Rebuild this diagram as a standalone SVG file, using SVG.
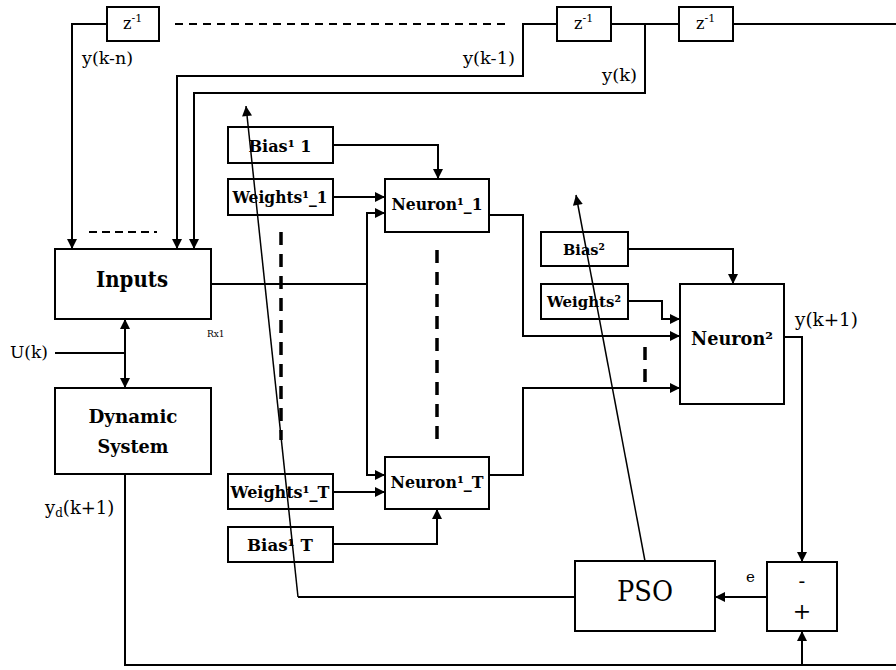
<svg xmlns="http://www.w3.org/2000/svg" width="896" height="670" viewBox="0 0 896 670">
<style>
.box{fill:#fff;stroke:#000;stroke-width:2}
.c{fill:none;stroke:#000;stroke-width:2}
.thin{fill:none;stroke:#000;stroke-width:1.5}
.a{marker-end:url(#ah)}
.b{font-family:'DejaVu Serif',serif;font-weight:bold;fill:#000;text-anchor:middle}
.r{font-family:'DejaVu Serif',serif;fill:#000}
.dash{fill:none;stroke:#000;stroke-width:3.5;stroke-dasharray:13,9}
</style>
<defs>
<marker id="ah" viewBox="0 0 10 10" refX="10" refY="5" markerWidth="11" markerHeight="10" markerUnits="userSpaceOnUse" orient="auto-start-reverse"><path d="M0,0 L10,5 L0,10 z" fill="#000"/></marker>
</defs>
<rect width="896" height="670" fill="#fff"/>

<g id="z1"><rect class="box" x="107" y="7" width="52" height="34"/><text class="r" x="123" y="29" font-size="16">z<tspan font-size="11" dy="-7">-1</tspan></text></g>
<g id="z2"><rect class="box" x="557" y="7" width="54" height="34"/><text class="r" x="574" y="29" font-size="16">z<tspan font-size="11" dy="-7">-1</tspan></text></g>
<g id="z3"><rect class="box" x="679" y="7" width="54" height="34"/><text class="r" x="696" y="29" font-size="16">z<tspan font-size="11" dy="-7">-1</tspan></text></g>

<g id="inputs"><rect class="box" x="55" y="249" width="156" height="70"/><text class="b" x="132" y="287" font-size="23" textLength="72" lengthAdjust="spacingAndGlyphs">Inputs</text></g>
<g id="dynamic"><rect class="box" x="55" y="388" width="156" height="86"/><text class="b" x="133" y="423" font-size="19" textLength="89" lengthAdjust="spacingAndGlyphs">Dynamic</text><text class="b" x="133" y="453" font-size="19" textLength="71" lengthAdjust="spacingAndGlyphs">System</text></g>

<g id="bias1_1"><rect class="box" x="228" y="127" width="105" height="36"/><text class="b" x="280" y="152" font-size="16" textLength="63" lengthAdjust="spacingAndGlyphs">Bias¹ 1</text></g>
<g id="weights1_1"><rect class="box" x="228" y="179" width="105" height="36"/><text class="b" x="280" y="203" font-size="16" textLength="95" lengthAdjust="spacingAndGlyphs">Weights¹_1</text></g>
<g id="weights1_T"><rect class="box" x="228" y="474" width="105" height="35"/><text class="b" x="280" y="498" font-size="16" textLength="99" lengthAdjust="spacingAndGlyphs">Weights¹_T</text></g>
<g id="bias1_T"><rect class="box" x="228" y="527" width="105" height="35"/><text class="b" x="280" y="551" font-size="16" textLength="66" lengthAdjust="spacingAndGlyphs">Bias¹ T</text></g>

<g id="neuron1_1"><rect class="box" x="385" y="179" width="104" height="53"/><text class="b" x="437" y="210" font-size="16" textLength="91" lengthAdjust="spacingAndGlyphs">Neuron¹_1</text></g>
<g id="neuron1_T"><rect class="box" x="385" y="457" width="104" height="52"/><text class="b" x="437" y="488" font-size="16" textLength="93" lengthAdjust="spacingAndGlyphs">Neuron¹_T</text></g>

<g id="bias2"><rect class="box" x="541" y="232" width="87" height="34"/><text class="b" x="584" y="255" font-size="15" textLength="42" lengthAdjust="spacingAndGlyphs">Bias²</text></g>
<g id="weights2"><rect class="box" x="541" y="284" width="87" height="35"/><text class="b" x="584" y="307" font-size="15" textLength="74" lengthAdjust="spacingAndGlyphs">Weights²</text></g>
<g id="neuron2"><rect class="box" x="680" y="284" width="104" height="120"/><text class="b" x="732" y="345" font-size="18" textLength="82" lengthAdjust="spacingAndGlyphs">Neuron²</text></g>

<g id="pso"><rect class="box" x="575" y="561" width="140" height="70"/><text class="r" x="645" y="601" font-size="28" text-anchor="middle" textLength="56" lengthAdjust="spacingAndGlyphs">PSO</text></g>
<g id="sum"><rect class="box" x="767" y="562" width="70" height="69"/><text class="r" x="802" y="588" font-size="20" text-anchor="middle">-</text><text class="r" x="802" y="619" font-size="22" text-anchor="middle">+</text></g>

<g id="labels">
<text class="r" x="82" y="64" font-size="16" textLength="51" lengthAdjust="spacingAndGlyphs">y(k-n)</text>
<text class="r" x="463" y="64" font-size="16" textLength="52" lengthAdjust="spacingAndGlyphs">y(k-1)</text>
<text class="r" x="602" y="81" font-size="16" textLength="35" lengthAdjust="spacingAndGlyphs">y(k)</text>
<text class="r" x="795" y="326" font-size="18" textLength="63" lengthAdjust="spacingAndGlyphs">y(k+1)</text>
<text class="r" x="10" y="358" font-size="16" textLength="38" lengthAdjust="spacingAndGlyphs">U(k)</text>
<text class="r" x="207" y="337" font-size="9">Rx1</text>
<text class="r" x="45" y="514" font-size="18">y<tspan font-size="12" dy="3">d</tspan><tspan dy="-3">(k+1)</tspan></text>
<text class="r" x="746" y="582" font-size="15">e</text>
</g>

<g id="connectors">
<path class="c a" d="M107,24 H72 V249"/>
<path class="c" d="M175,24 H507" stroke-dasharray="8,6"/>
<path class="c a" d="M557,24 H523 V76 H177 V249"/>
<path class="c" d="M611,24 H679"/>
<path class="c a" d="M645,24 V93 H194 V249"/>
<path class="c" d="M733,24 H896"/>
<path class="c" d="M89,232 H157" stroke-dasharray="8,5"/>
<path class="c" d="M211,284 H367"/>
<path class="c a" d="M385,213 H367 V475 H385" marker-start="url(#ah)"/>
<path class="c a" d="M333,197 H385"/>
<path class="c a" d="M333,145 H438 V179"/>
<path class="c a" d="M333,492 H385"/>
<path class="c a" d="M333,544 H437 V509"/>
<path class="c a" d="M489,215 H523 V336 H680"/>
<path class="c a" d="M489,475 H523 V388 H680"/>
<path class="c a" d="M628,249 H733 V284"/>
<path class="c a" d="M628,301 H662 V319 H680"/>
<path class="c a" d="M784,337 H802 V562"/>
<path class="c a" d="M767,597 H715"/>
<path class="c" d="M575,597 H298"/>
<path class="thin a" d="M298,597 L246,106"/>
<path class="thin a" d="M645,561 L576,195"/>
<path class="c" d="M125,474 V665 H896"/>
<path class="c a" d="M802,665 V631"/>
<path class="c a" d="M125,319 V388" marker-start="url(#ah)"/>
<path class="c" d="M55,353 H125"/>
<path class="dash" d="M281,232 V440"/>
<path class="dash" d="M437,250 V442"/>
<path class="dash" d="M645,347 V383" stroke-width="3" stroke-dasharray="6,4"/>
</g>
</svg>
